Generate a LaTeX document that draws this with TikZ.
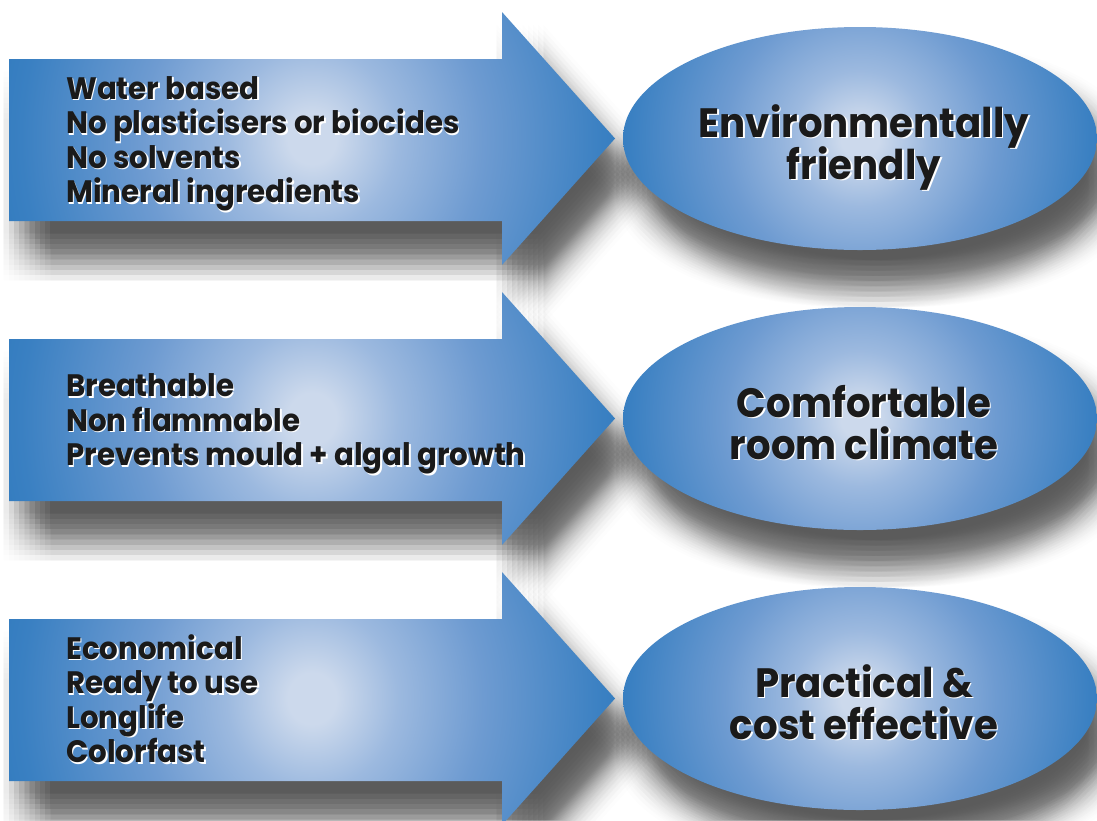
\documentclass[tikz,border=0pt]{standalone}
\usepackage{fontspec}
\setmainfont{Poppins}[FakeStretch=0.945]
\usetikzlibrary{shapes.geometric}
\definecolor{edgeblue}{HTML}{2272B8}
\definecolor{midblue}{HTML}{3A80C2}
\definecolor{softblue}{HTML}{6E9BD1}
\definecolor{paleblue}{HTML}{9CB9DF}
\definecolor{spotblue}{HTML}{CCD9EC}
\definecolor{txtdark}{HTML}{1A1A1A}
\pgfdeclareradialshading{bluespot}{\pgfpoint{0bp}{0bp}}{%
  color(0bp)=(spotblue); color(2bp)=(spotblue); color(7.1bp)=(paleblue);
  color(14.1bp)=(softblue); color(24bp)=(midblue); color(32.5bp)=(edgeblue); color(100bp)=(edgeblue)}
\newcommand\shtext[1]{\leavevmode\rlap{\kern1.6pt\raisebox{-1.6pt}{\textcolor{white}{#1}}}\textcolor{txtdark}{#1}}
\tikzset{
  arrowpath/.style={insert path={(9,59+#1) -- (502,59+#1) -- (502,12+#1) -- (615,138.5+#1) -- (502,265+#1) -- (502,221+#1) -- (9,221+#1) -- cycle}},
  ovalpath/.style={insert path={(860,138.5+#1) ellipse [x radius=237, y radius=111.5]}},
  shadowlayer/.style={fill=black, fill opacity=0.0082},
  arrowshape/.style={path picture={\shade[shading=bluespot, shift={(path picture bounding box.center)}] (-303,-320) rectangle (303,320);}},
  goalshape/.style={ellipse, minimum width=474pt, minimum height=223pt, inner sep=0pt,
    path picture={\shade[shading=bluespot, shift={(path picture bounding box.center)}] (-240,-240) rectangle (240,240);}},
  itemtext/.style={anchor=base west, inner sep=0pt, font=\fontsize{31}{34.5}\selectfont\bfseries},
  goaltext/.style={anchor=base, inner sep=0pt, font=\fontsize{41}{42}\selectfont\bfseries}
}
\begin{document}
\begin{tikzpicture}[x=1pt,y=-1pt]
\fill[white] (0,0) rectangle (1097,820);
\useasboundingbox (0,0) rectangle (1097,820);
% soft shadows (box blur from shifted translucent copies)
\foreach \dy in {0,280,560}{
  \foreach \i in {0,...,9}{
    \foreach \j in {0,...,9}{
      \pgfmathsetmacro\ax{18+(\i-4.5)*5.2}
      \pgfmathsetmacro\ay{36+(\j-4.5)*5.2}
      \pgfmathsetmacro\ex{16+(\i-4.5)*5.2}
      \pgfmathsetmacro\ey{34+(\j-4.5)*5.2}
      \fill[shadowlayer, shift={(\ax,\ay)}] [arrowpath=\dy];
      \fill[shadowlayer, shift={(\ex,\ey)}] [ovalpath=\dy];
    }
  }
}
\foreach \dy/\r in {0/1,280/2,560/3}{
  \path[arrowshape] [arrowpath=\dy];
  \node[goalshape] (goal\r) at (860,138.5+\dy) {};
}
% row 1
\node[itemtext] (a1) at (66,99) {\shtext{Water based}};
\node[itemtext] (a2) at (66,133.5) {\shtext{No plasticisers or biocides}};
\node[itemtext] (a3) at (66,168) {\shtext{No solvents}};
\node[itemtext] (a4) at (66,202.5) {\shtext{Mineral ingredients}};
\node[goaltext] (g1a) at (864,137) {\shtext{Environmentally}};
\node[goaltext] (g1b) at (864,179) {\shtext{friendly}};
% row 2
\node[itemtext] (b1) at (66,396.5) {\shtext{Breathable}};
\node[itemtext] (b2) at (66,431) {\shtext{Non flammable}};
\node[itemtext] (b3) at (66,465.5) {\shtext{Prevents mould + algal growth}};
\node[goaltext] (g2a) at (864,417) {\shtext{Comfortable}};
\node[goaltext] (g2b) at (864,459) {\shtext{room climate}};
% row 3
\node[itemtext] (c1) at (66,659) {\shtext{Economical}};
\node[itemtext] (c2) at (66,693.5) {\shtext{Ready to use}};
\node[itemtext] (c3) at (66,728) {\shtext{Longlife}};
\node[itemtext] (c4) at (66,762.5) {\shtext{Colorfast}};
\node[goaltext] (g3a) at (864,697) {\shtext{Practical \&}};
\node[goaltext] (g3b) at (864,739) {\shtext{cost effective}};
\end{tikzpicture}
\end{document}
